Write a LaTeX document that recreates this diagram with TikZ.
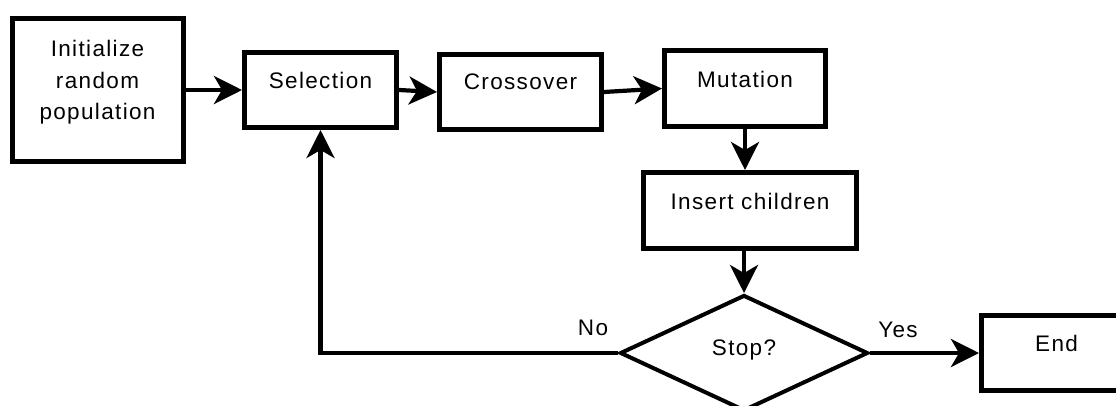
\documentclass[tikz,border=0pt]{standalone}
\usepackage{fontspec}
\setmainfont[LetterSpace=6]{Liberation Sans}
\usetikzlibrary{arrows.meta,shapes.geometric,calc}
\newcommand{\uptext}[2][7.5pt]{\raisebox{#1}[\height][\depth]{\begin{tabular}{@{}c@{}}#2\end{tabular}}}
\begin{document}
\begin{tikzpicture}[x=1pt,y=-1pt,
  box/.style={draw=black,line width=5pt,rectangle,inner sep=0pt,font=\fontsize{22.5}{31.5}\selectfont},
  cond/.style={draw=black,line width=4pt,diamond,inner sep=0pt,font=\fontsize{22.5}{31.5}\selectfont},
  lbl/.style={inner sep=0pt,font=\fontsize{22.5}{27}\selectfont},
  conn/.style={line width=4.2pt,-{Stealth[length=28pt,width=28pt,inset=8pt]}}]
\clip (0,0) rectangle (1116,405);
\node[box,minimum width=171pt,minimum height=143pt] (init) at (97.5,89.5) {\uptext{Initialize\\random\\population}};
\node[box,minimum width=152pt,minimum height=75pt] (sel) at (320.5,90) {\uptext{Selection}};
\node[box,minimum width=162pt,minimum height=75pt] (cross) at (520.5,92) {\uptext[9pt]{Crossover}};
\node[box,minimum width=161pt,minimum height=76pt] (mut) at (745,88.5) {\uptext{Mutation}};
\node[box,minimum width=213pt,minimum height=76pt] (ins) at (750,210.5) {\uptext{Insert children}};
\node[cond,minimum width=248pt,minimum height=116pt] (dia) at (744,353) {\uptext[4pt]{Stop?}};
\node[box,minimum width=150pt,minimum height=75pt] (end) at (1056.5,353) {\uptext[8pt]{End}};
\node[lbl] (yes) at (898,330) {Yes};
\node[lbl] (no) at (593,328) {No};
\draw[conn] (init.east |- sel.west) -- (sel.west);
\draw[conn] (sel.east) -- (cross.west);
\draw[conn] (cross.east) -- (mut.west);
\draw[conn] (mut.south) -- (mut.south |- ins.north);
\draw[conn] (dia.north |- ins.south) -- (dia.north);
\draw[conn] (dia.east) -- (end.west);
\draw[conn] (dia.west) -- (sel.south |- dia.west) -- (sel.south);
\end{tikzpicture}
\end{document}
